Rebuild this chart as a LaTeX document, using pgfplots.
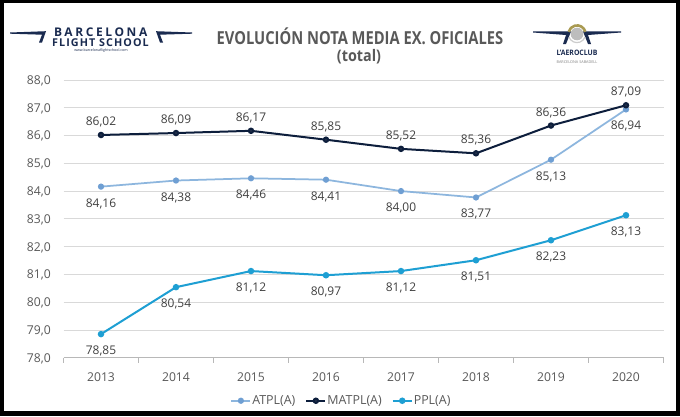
\documentclass[border=0pt]{standalone}
\usepackage{fontspec}
\setmainfont{Open Sans}
\usepackage{pgfplots}
\pgfplotsset{compat=1.18}
\definecolor{atpl}{HTML}{8DB6DE}
\definecolor{atplm}{HTML}{6F9FD3}
\definecolor{matpl}{HTML}{0D1E3C}
\definecolor{ppl}{HTML}{1E9FD3}
\definecolor{txt}{HTML}{595959}
\definecolor{lbl}{HTML}{404040}
\definecolor{gridc}{HTML}{D9D9D9}
\definecolor{navy}{HTML}{1A2B50}
\definecolor{gold}{HTML}{A99A52}
\definecolor{circ}{HTML}{BDBDBD}

\pgfplotstableread{
x atpl matpl ppl
2013 84.16 86.02 78.85
2014 84.38 86.09 80.54
2015 84.46 86.17 81.12
2016 84.41 85.85 80.97
2017 84.00 85.52 81.12
2018 83.77 85.36 81.51
2019 85.13 86.36 82.23
2020 86.94 87.09 83.13
}\datatable

\begin{document}
\begin{tikzpicture}[x=1bp,y=1bp]
\useasboundingbox (0,0) rectangle (680,416);
\fill[black] (0,0) rectangle (680,416);
\fill[white] (4,5) rectangle (676,413);
% title
\node[font=\fontsize{18}{20}\selectfont\bfseries, text=txt, xscale=0.82, inner sep=0pt] at (360,379.3) {EVOLUCIÓN NOTA MEDIA EX. OFICIALES};
\node[font=\fontsize{16}{18}\selectfont\bfseries, text=txt, xscale=0.9, inner sep=0pt] at (359,359.3) {(total)};
% left logo
\fill[navy] (10,383.5) -- (10,382.3) -- (42,381.3) -- (39,373.5) -- (42,373.5) -- (46,384.8) -- cycle;
\fill[navy] (192,383.5) -- (192,382.3) -- (160,381.3) -- (163,373.5) -- (160,373.5) -- (156,384.8) -- cycle;
\node[font=\fontsize{12}{13}\selectfont\addfontfeatures{LetterSpace=22}, text=navy, inner sep=0pt] at (102,383.5) {\textbf{BARCELONA}};
\node[font=\fontsize{10.8}{11}\selectfont\addfontfeatures{LetterSpace=10}, text=navy, inner sep=0pt] at (101,373) {\textbf{FLIGHT SCHOOL}};
\node[font=\fontsize{3.6}{4}\selectfont, text=navy, inner sep=0pt] at (101,365) {www.barcelonaflightschool.com};
% right logo
\fill[navy] (533,384.5) -- (533,383.5) -- (566,381) -- (563,372) -- (566,372) -- (571,384.5) -- cycle;
\fill[navy] (621,384.5) -- (621,383.5) -- (588,381) -- (591,372) -- (588,372) -- (583,384.5) -- cycle;
\fill[circ] (577,382) circle (6.3);
\draw[gold, line width=2.6] (577,382) ++(15:8.6) arc (15:165:8.6);
\draw[gray!40, line width=1.2] (577,382) ++(200:8.6) arc (200:340:8.6);
\node[font=\fontsize{7.5}{8}\selectfont\bfseries, text=navy, xscale=0.92, inner sep=0pt] at (577,363) {L'AEROCLUB};
\node[font=\fontsize{3.8}{4}\selectfont, text=gray, inner sep=0pt] at (577,354.3) {BARCELONA SABADELL};

\begin{axis}[
  at={(63.5bp,58.3bp)}, anchor=south west,
  scale only axis, width=600bp, height=277.7bp,
  xmin=2012.5, xmax=2020.5, ymin=78, ymax=88,
  xtick={2013,...,2020},
  xticklabels={2013,2014,2015,2016,2017,2018,2019,2020},
  minor xtick={2012.5,2013.5,2014.5,2015.5,2016.5,2017.5,2018.5,2019.5,2020.5},
  ytick={78,...,88},
  /pgf/number format/assume math mode=true,
  yticklabel={\pgfmathprintnumber[fixed,fixed zerofill,precision=1,use comma,assume math mode=true]{\tick}},
  ymajorgrids, xmajorgrids=false,
  grid style={color=gridc, line width=0.75bp},
  axis x line*=bottom, axis y line*=left,
  y axis line style={draw=none},
  x axis line style={color=gridc!85!black, line width=0.75bp, -},
  major tick length=0pt, minor tick length=5bp, tick align=outside,
  minor tick style={color=gridc!85!black, line width=0.75bp},
  ticklabel style={font=\fontsize{12.2}{13}\selectfont, text=txt},
  yticklabel style={anchor=base east, inner sep=0pt, xshift=-12.5bp, yshift=-4.4bp},
  xticklabel style={anchor=base, inner sep=0pt, yshift=-24bp},
  clip=false,
  point meta=y,
  nodes near coords={\pgfmathprintnumber[fixed,fixed zerofill,precision=2,use comma,assume math mode=true]{\pgfplotspointmeta}},
  nodes near coords style={font=\fontsize{12}{13}\selectfont, text=lbl, inner sep=0pt},
  legend columns=3,
  legend style={draw=none, fill=none, at={(axis description cs:0.4625,-0.155)}, anchor=center,
    font=\fontsize{12.5}{13}\selectfont, text=txt, /tikz/every even column/.append style={column sep=9bp},
    nodes={inner sep=1bp}},
  legend image code/.code={\draw[mark repeat=2,mark phase=2,#1] plot coordinates {(0bp,0bp) (9.5bp,0bp) (19bp,0bp)};},
]
\addplot[color=atpl, line width=1.75bp, mark=*, mark size=2.2bp, mark options={fill=atplm, draw=atplm, solid},
  every node near coord/.append style={anchor=base, yshift=-20.5bp}] table[x=x,y=atpl] {\datatable};
\addlegendentry{ATPL(A)}
\addplot[color=matpl, line width=2bp, mark=*, mark size=2.2bp, mark options={fill=matpl!80!gray, draw=matpl, solid},
  every node near coord/.append style={anchor=base, yshift=9.5bp}] table[x=x,y=matpl] {\datatable};
\addlegendentry{MATPL(A)}
\addplot[color=ppl, line width=2bp, mark=*, mark size=2.2bp, mark options={fill=ppl, draw=ppl, solid},
  every node near coord/.append style={anchor=base, yshift=-20.5bp}] table[x=x,y=ppl] {\datatable};
\addlegendentry{PPL(A)}
\end{axis}
\end{tikzpicture}
\end{document}
